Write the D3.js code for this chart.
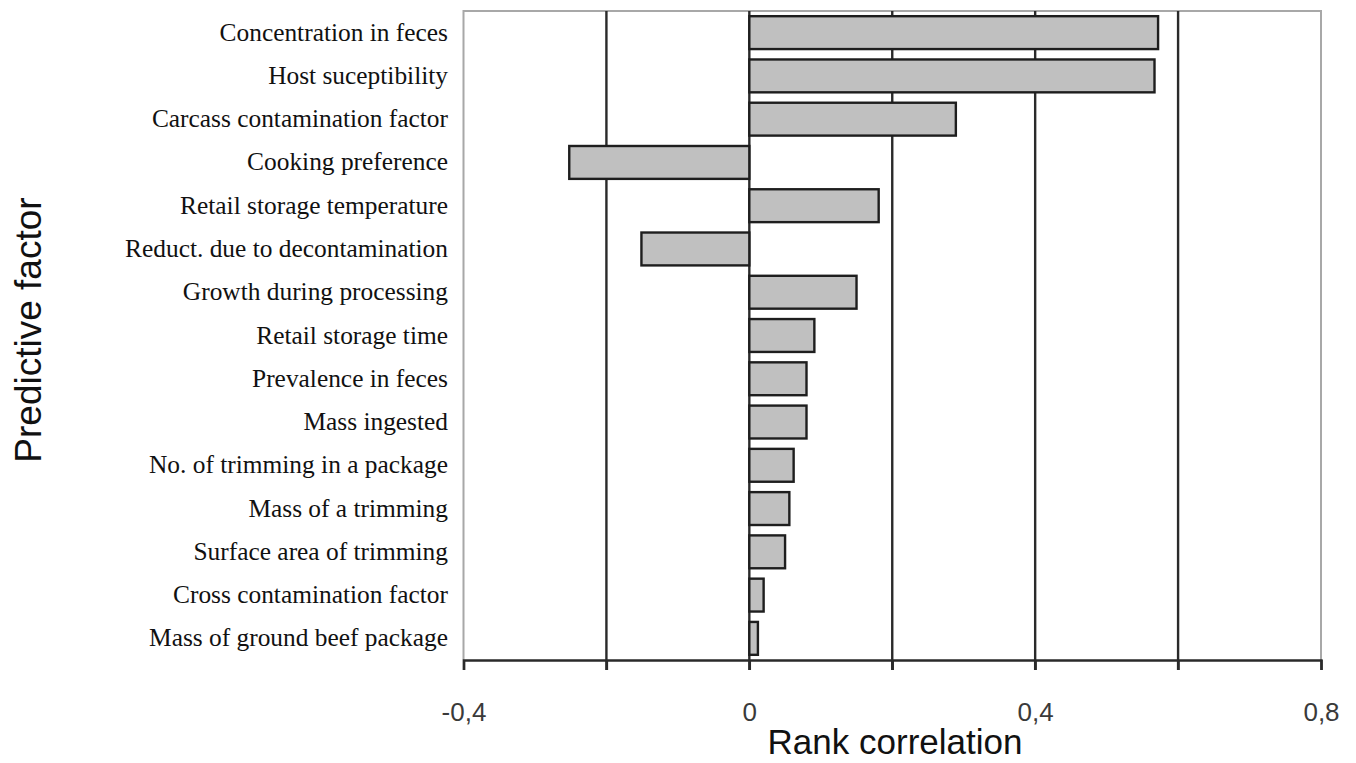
<!DOCTYPE html>
<html>
<head>
<meta charset="utf-8">
<script src="https://cdn.jsdelivr.net/npm/d3@7/dist/d3.min.js"></script>
<style>
  html, body { margin: 0; padding: 0; background: #fff; }
  #chart { width: 1356px; height: 763px; }
</style>
</head>
<body>
<div id="chart"></div>
<script>
// Rank correlation of predictive factors (tornado-style bars)
const factors = [
  'Concentration in feces',
  'Host suceptibility',
  'Carcass contamination factor',
  'Cooking preference',
  'Retail storage temperature',
  'Reduct. due to decontamination',
  'Growth during processing',
  'Retail storage time',
  'Prevalence in feces',
  'Mass ingested',
  'No. of trimming in a package',
  'Mass of a trimming',
  'Surface area of trimming',
  'Cross contamination factor',
  'Mass of ground beef package'
];
const correlations = [0.572, 0.567, 0.289, -0.252, 0.181, -0.151, 0.150, 0.091, 0.080, 0.080, 0.062, 0.056, 0.050, 0.020, 0.012];
const gridTicks = [-0.4, -0.2, 0, 0.2, 0.4, 0.6, 0.8];
const labelTicks = [-0.4, 0, 0.4, 0.8];

function renderChart() {
  const W = 1356, H = 763;
  const plot = { left: 463.5, right: 1321, top: 11, bottom: 660 };

  const svg = d3.select('#chart')
    .append('svg')
    .attr('width', W)
    .attr('height', H);

  const x = d3.scaleLinear().domain([-0.4, 0.8]).range([plot.left, plot.right]);
  const y = d3.scaleBand().domain(factors).range([plot.top, plot.bottom])
    .paddingInner(0.24).paddingOuter(0.12);

  // frame: light top / left / right borders
  svg.append('path')
    .attr('d', `M${plot.left},${plot.bottom}V${plot.top}H${plot.right}V${plot.bottom}`)
    .attr('fill', 'none')
    .attr('stroke', '#a8a8a8')
    .attr('stroke-width', 2);

  // vertical gridlines (skip the frame edges), they run a little past the axis as ticks
  svg.append('g')
    .selectAll('line')
    .data(gridTicks.filter(t => t > -0.4 && t < 0.8))
    .join('line')
    .attr('x1', d => x(d)).attr('x2', d => x(d))
    .attr('y1', plot.top).attr('y2', plot.bottom + 10)
    .attr('stroke', '#2a2a2a')
    .attr('stroke-width', 2.4);

  // bars
  svg.append('g')
    .selectAll('rect')
    .data(factors.map((f, i) => ({ f, v: correlations[i] })))
    .join('rect')
    .attr('x', d => x(Math.min(0, d.v)))
    .attr('y', d => y(d.f))
    .attr('width', d => Math.abs(x(d.v) - x(0)))
    .attr('height', y.bandwidth())
    .attr('fill', '#c0c0c0')
    .attr('stroke', '#1e1e1e')
    .attr('stroke-width', 2.4);

  // x axis
  const xAxis = d3.axisBottom(x)
    .tickValues(gridTicks)
    .tickSize(10)
    .tickFormat(d => labelTicks.includes(d) ? d3.format('.1f')(d).replace('.', ',').replace('0,0', '0').replace('−', '-') : '');

  const gx = svg.append('g')
    .attr('transform', `translate(0,${plot.bottom})`)
    .call(xAxis);
  gx.select('.domain').attr('stroke', '#2a2a2a').attr('stroke-width', 2.4);
  gx.selectAll('.tick line').attr('stroke', '#2a2a2a').attr('stroke-width', 2.4);
  gx.selectAll('.tick text')
    .attr('y', 61)
    .attr('dy', 0)
    .attr('fill', '#3a3a3a')
    .attr('font-size', 26)
    .attr('font-family', 'Liberation Sans, Arial, sans-serif');

  // category labels
  svg.append('g')
    .selectAll('text')
    .data(factors)
    .join('text')
    .attr('x', 448)
    .attr('y', d => y(d) + y.bandwidth() / 2 + 8)
    .attr('text-anchor', 'end')
    .attr('fill', '#111')
    .attr('font-size', 25.4)
    .attr('font-family', 'Liberation Serif, Times New Roman, serif')
    .text(d => d);

  // axis titles
  svg.append('text')
    .attr('x', 895).attr('y', 754)
    .attr('text-anchor', 'middle')
    .attr('fill', '#111')
    .attr('font-size', 35)
    .attr('font-family', 'Liberation Sans, Arial, sans-serif')
    .text('Rank correlation');

  svg.append('text')
    .attr('transform', 'translate(41,330) rotate(-90)')
    .attr('text-anchor', 'middle')
    .attr('fill', '#111')
    .attr('font-size', 37)
    .attr('font-family', 'Liberation Sans, Arial, sans-serif')
    .text('Predictive factor');
}

document.addEventListener('DOMContentLoaded', renderChart);
</script>
</body>
</html>
